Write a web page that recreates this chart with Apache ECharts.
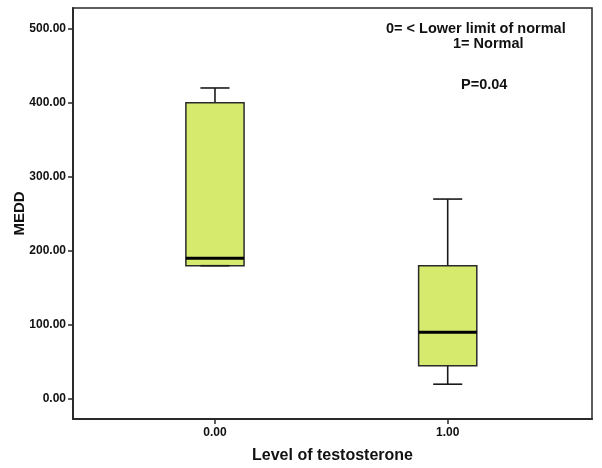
<!DOCTYPE html>
<html>
<head>
<meta charset="utf-8">
<script src="https://cdn.jsdelivr.net/npm/echarts@6/dist/echarts.min.js"></script>
<style>html,body{margin:0;padding:0;background:#fff}#c{width:602px;height:468px}</style>
</head>
<body>
<div id="c"></div>
<script>
const groups = [0, 1];
const mins = [180, 20];
const q1s = [180, 45];
const medians = [190, 90];
const q3s = [400, 180];
const maxs = [420, 270];
const yTicks = [0, 100, 200, 300, 400, 500];
const annotations = ['0= < Lower limit of normal', '1= Normal', 'P=0.04'];

const FONT = '"Liberation Sans", Arial, sans-serif';
const data = groups.map((g, i) => [g, mins[i], q1s[i], medians[i], q3s[i], maxs[i]]);

const chart = echarts.init(document.getElementById('c'), null, {renderer: 'canvas'});
chart.setOption({
  animation: false,
  backgroundColor: '#fff',
  grid: {left: 73, top: 8, right: 10, bottom: 49, outerBoundsMode: 'none', containLabel: false, show: true, borderColor: '#2a2a2a', borderWidth: 1.5, backgroundColor: 'transparent'},
  xAxis: {
    type: 'value', min: -0.61, max: 1.62,
    name: 'Level of testosterone', nameLocation: 'middle', nameGap: 29, nameMoveOverlap: false,
    nameTextStyle: {fontFamily: FONT, fontWeight: 'bold', fontSize: 16, color: '#111'},
    axisLine: {show: true, onZero: false, lineStyle: {color: '#2a2a2a', width: 2}},
    axisTick: {show: true, inside: false, length: 5, customValues: groups, lineStyle: {color: '#2a2a2a', width: 1.5}},
    axisLabel: {customValues: groups, margin: 8, formatter: v => v.toFixed(2), fontFamily: FONT, fontWeight: 'bold', fontSize: 12, color: '#111'},
    splitLine: {show: false}
  },
  yAxis: {
    type: 'value', min: -27, max: 528,
    name: 'MEDD', nameLocation: 'middle', nameGap: 46, nameRotate: 90, nameMoveOverlap: false,
    nameTextStyle: {fontFamily: FONT, fontWeight: 'bold', fontSize: 15, color: '#111'},
    axisLine: {show: true, onZero: false, lineStyle: {color: '#2a2a2a', width: 2}},
    axisTick: {show: true, inside: false, length: 5, customValues: yTicks, lineStyle: {color: '#2a2a2a', width: 1.5}},
    axisLabel: {customValues: yTicks, margin: 7, formatter: v => v.toFixed(2), fontFamily: FONT, fontWeight: 'bold', fontSize: 12, color: '#111'},
    splitLine: {show: false}
  },
  graphic: [
    {type: 'text', left: 386, top: 21, style: {text: annotations[0], font: 'bold 14.5px ' + FONT, fill: '#111'}},
    {type: 'text', left: 453, top: 36, style: {text: annotations[1], font: 'bold 14.5px ' + FONT, fill: '#111'}},
    {type: 'text', left: 461, top: 77.5, style: {text: annotations[2], font: 'bold 14.5px ' + FONT, fill: '#111'}}
  ],
  series: [{
    type: 'custom',
    data: data,
    encode: {x: 0, y: [1, 2, 3, 4, 5]},
    renderItem: function (params, api) {
      const x = api.value(0);
      const pMin = api.coord([x, api.value(1)]);
      const pQ1 = api.coord([x, api.value(2)]);
      const pMed = api.coord([x, api.value(3)]);
      const pQ3 = api.coord([x, api.value(4)]);
      const pMax = api.coord([x, api.value(5)]);
      const bw = api.size([0.25, 0])[0];
      const cw = bw / 2;
      const cx = pMed[0];
      const lineStyle = {stroke: '#1a1a1a', lineWidth: 1.6};
      return {
        type: 'group',
        children: [
          {type: 'line', shape: {x1: cx, y1: pQ3[1], x2: cx, y2: pMax[1]}, style: lineStyle},
          {type: 'line', shape: {x1: cx, y1: pQ1[1], x2: cx, y2: pMin[1]}, style: lineStyle},
          {type: 'rect', shape: {x: cx - bw / 2, y: pQ3[1], width: bw, height: pQ1[1] - pQ3[1]}, style: {fill: '#d6eb6e', stroke: '#2a2a2a', lineWidth: 1.5}},
          {type: 'line', shape: {x1: cx - bw / 2, y1: pMed[1], x2: cx + bw / 2, y2: pMed[1]}, style: {stroke: '#000', lineWidth: 3}},
          {type: 'line', shape: {x1: cx - cw / 2, y1: pMax[1], x2: cx + cw / 2, y2: pMax[1]}, style: lineStyle},
          {type: 'line', shape: {x1: cx - cw / 2, y1: pMin[1], x2: cx + cw / 2, y2: pMin[1]}, style: lineStyle}
        ]
      };
    }
  }]
});
</script>
</body>
</html>
